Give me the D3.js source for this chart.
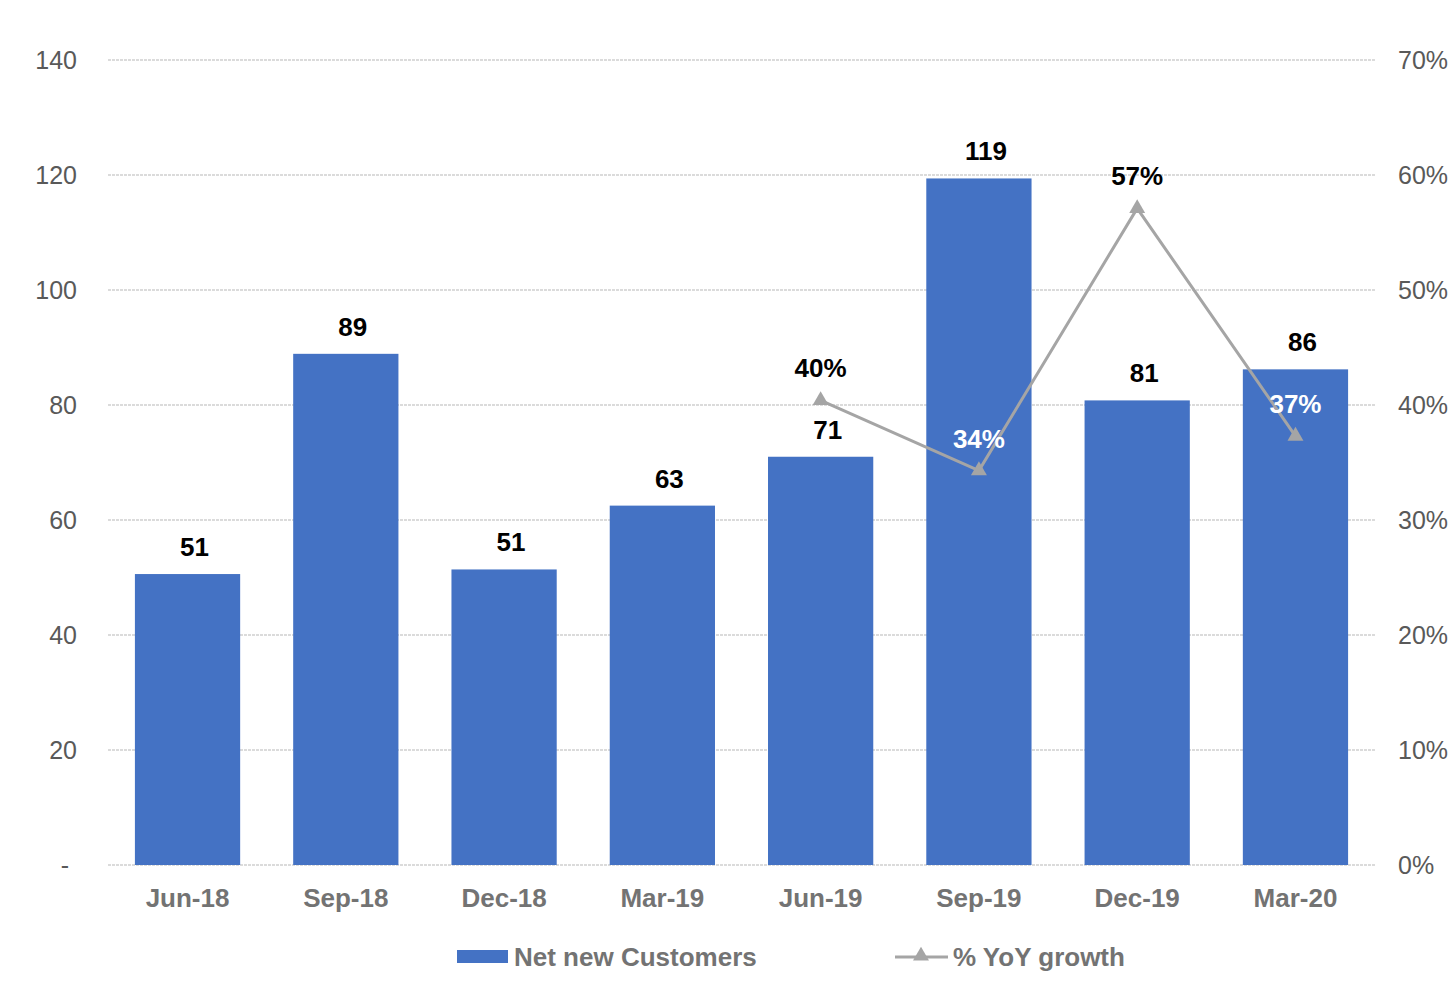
<!DOCTYPE html>
<meta charset="utf-8">
<html>
<head>
  <script src="https://d3js.org/d3.v7.min.js"></script>
  <style>
    body { margin: 0; background: #fff; }
    text { font-family: 'Liberation Sans', Arial, sans-serif; }
    .tick-label { font-size: 25px; fill: #595959; }
    .x-label { font-size: 26px; font-weight: bold; fill: #737373; }
    .bar { fill: #4472c4; }
    .grid line { stroke: #d0d0d0; stroke-width: 1.5; stroke-dasharray: 3 1; }
    .bar-label { font-size: 26px; font-weight: bold; fill: #000; }
    .growth-line { fill: none; stroke: #a5a5a5; stroke-width: 3; }
    .marker { fill: #a5a5a5; }
    .legend text { font-size: 26px; font-weight: bold; fill: #737373; }
  </style>
</head>
<body>
<script>
  // data
  var quarters = ["Jun-18", "Sep-18", "Dec-18", "Mar-19", "Jun-19", "Sep-19", "Dec-19", "Mar-20"];
  var customers = [50.6, 88.9, 51.4, 62.5, 71.0, 119.4, 80.8, 86.2];
  var growthQuarters = ["Jun-19", "Sep-19", "Dec-19", "Mar-20"];
  var growth = [0.404, 0.343, 0.571, 0.373];
  var leftTicks = [0, 20, 40, 60, 80, 100, 120, 140];
  var rightTicks = [0, 0.1, 0.2, 0.3, 0.4, 0.5, 0.6, 0.7];

  var W = 1456, H = 1000;
  var m = { top: 60, right: 81, bottom: 135, left: 108 };
  var w = W - m.left - m.right, h = H - m.top - m.bottom;

  var svg = d3.select("body").append("svg")
    .attr("width", W).attr("height", H);
  var g = svg.append("g").attr("transform", `translate(${m.left},${m.top})`);

  var x = d3.scaleBand().domain(quarters).range([0, w]).paddingInner(0.335).paddingOuter(0.17);
  var y = d3.scaleLinear().domain([0, 140]).range([h, 0]);
  var y2 = d3.scaleLinear().domain([0, 0.7]).range([h, 0]);

  // gridlines
  g.append("g").attr("class", "grid")
    .selectAll("line").data(leftTicks).enter().append("line")
    .attr("x1", 0).attr("x2", w)
    .attr("y1", d => y(d)).attr("y2", d => y(d));

  // left ticks
  g.append("g").selectAll("text").data(leftTicks).enter().append("text")
    .attr("class", "tick-label")
    .attr("x", d => d === 0 ? -43 : -31)
    .attr("y", d => y(d) + 9)
    .attr("text-anchor", d => d === 0 ? "middle" : "end")
    .text(d => d === 0 ? "-" : d);

  // right ticks
  g.append("g").selectAll("text").data(rightTicks).enter().append("text")
    .attr("class", "tick-label")
    .attr("x", w + 23)
    .attr("y", d => y2(d) + 9)
    .text(d3.format(".0%"));

  // bars
  g.selectAll(".bar").data(quarters).enter().append("rect")
    .attr("class", "bar")
    .attr("x", d => x(d))
    .attr("width", x.bandwidth())
    .attr("y", (d, i) => y(customers[i]))
    .attr("height", (d, i) => h - y(customers[i]));

  g.selectAll(".bar-label").data(quarters).enter().append("text")
    .attr("class", "bar-label")
    .attr("text-anchor", "middle")
    .attr("x", d => x(d) + x.bandwidth() / 2 + 7)
    .attr("y", (d, i) => y(customers[i]) - 18)
    .text((d, i) => Math.round(customers[i]));

  // x labels
  g.selectAll(".x-label").data(quarters).enter().append("text")
    .attr("class", "x-label")
    .attr("text-anchor", "middle")
    .attr("x", d => x(d) + x.bandwidth() / 2)
    .attr("y", h + 42)
    .text(d => d);

  // growth line
  var cx = d => x(d) + x.bandwidth() / 2;
  var line = d3.line().x(d => cx(d)).y((d, i) => y2(growth[i]));
  g.append("path").attr("class", "growth-line").attr("d", line(growthQuarters));

  var tri = d3.symbol().type(d3.symbolTriangle).size(110);
  g.selectAll(".marker").data(growthQuarters).enter().append("path")
    .attr("class", "marker")
    .attr("d", tri)
    .attr("transform", (d, i) => `translate(${cx(d)},${y2(growth[i])})`);

  g.selectAll(".growth-label").data(growthQuarters).enter().append("text")
    .attr("class", "bar-label")
    .attr("text-anchor", "middle")
    .attr("x", d => cx(d))
    .attr("y", (d, i) => y2(growth[i]) - 23)
    .style("fill", (d, i) => {
      var ly = y2(growth[i]) - 31;
      var top = y(customers[quarters.indexOf(d)]);
      return ly > top ? "#fff" : "#000";
    })
    .text((d, i) => d3.format(".0%")(growth[i]));

  // legend
  var lg = svg.append("g").attr("class", "legend");
  lg.append("rect").attr("x", 457).attr("y", 950).attr("width", 51).attr("height", 13).attr("fill", "#4472c4");
  lg.append("text").attr("x", 514).attr("y", 966).text("Net new Customers");
  lg.append("line").attr("x1", 895).attr("x2", 948).attr("y1", 957).attr("y2", 957)
    .attr("stroke", "#a5a5a5").attr("stroke-width", 3);
  lg.append("path").attr("class", "marker").attr("d", tri).attr("transform", "translate(921,956)");
  lg.append("text").attr("x", 953).attr("y", 966).text("% YoY growth");
</script>
</body>
</html>
